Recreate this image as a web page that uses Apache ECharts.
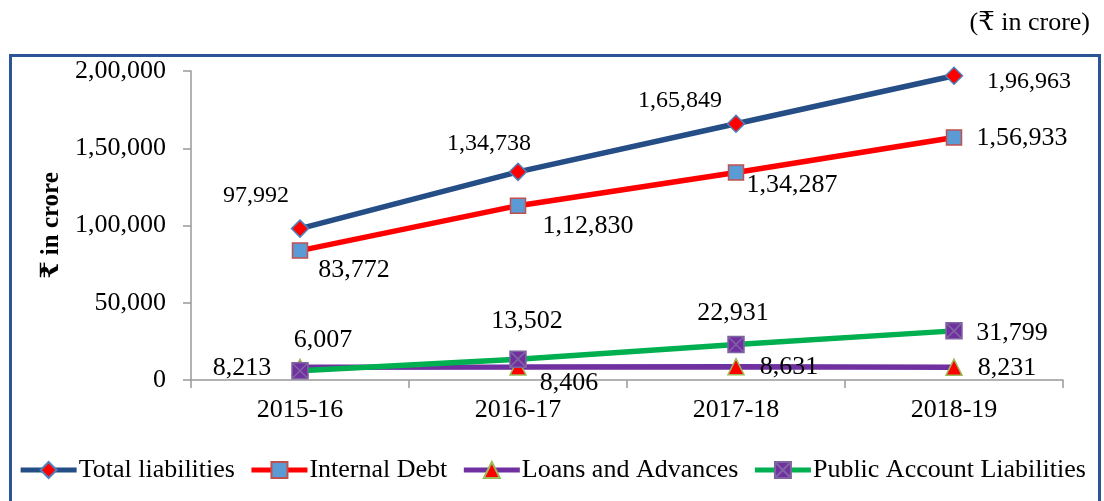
<!DOCTYPE html>
<html><head><meta charset="utf-8">
<script src="https://cdn.jsdelivr.net/npm/echarts@6/dist/echarts.min.js"></script>
<style>html,body{margin:0;padding:0;background:#fff}#c{width:1104px;height:501px}</style>
</head><body><div id="c"></div>
<script>
const categories = ['2015-16', '2016-17', '2017-18', '2018-19'];
const totalLiabilities = [97992, 134738, 165849, 196963];
const internalDebt = [83772, 112830, 134287, 156933];
const loansAdvances = [8213, 8406, 8631, 8231];
const publicAccount = [6007, 13502, 22931, 31799];
const yTicks = [0, 50000, 100000, 150000, 200000];

function indian(n) {
  const s = String(Math.round(n));
  if (s.length <= 3) return s;
  const last3 = s.slice(-3);
  const rest = s.slice(0, -3).replace(/\B(?=(\d{2})+(?!\d))/g, ',');
  return rest + ',' + last3;
}
const FONT = '"Liberation Serif", "Times New Roman", "DejaVu Serif", serif';

// label placement: [dx, dy] per point
function mk(values, cfg) {
  return values.map((v, i) => ({
    value: v,
    label: { offset: cfg[i] }
  }));
}
function lbl(size) {
  return { show: true, position: 'inside', fontFamily: FONT, fontSize: size, color: '#000', formatter: p => indian(p.value) };
}

const chart = echarts.init(document.getElementById('c'), null, { renderer: 'canvas' });
chart.setOption({
  animation: false,
  backgroundColor: '#fff',
  title: { text: '(\u20B9 in crore)', right: 9, top: 5, textStyle: { fontFamily: FONT, fontSize: 26, fontWeight: 'normal', color: '#000' } },
  graphic: [{ type: 'rect', shape: { x: 10.5, y: 55.5, width: 1089, height: 460 }, style: { fill: 'none', stroke: '#2B5597', lineWidth: 3 }, z: 0 }],
  grid: { left: 191, right: 41, top: 71, bottom: 121 },
  legend: {
    top: 452, left: 'center', itemWidth: 56, itemHeight: 20, itemGap: 14,
    lineStyle: { width: 5 },
    textStyle: { fontFamily: FONT, fontSize: 26, color: '#000', padding: [0, 0, 0, -3] },
    data: ['Total liabilities', 'Internal Debt', 'Loans and Advances', 'Public Account Liabilities']
  },
  xAxis: {
    type: 'category', data: categories, boundaryGap: true,
    axisLine: { lineStyle: { color: '#999', width: 1.5 } },
    axisTick: { show: true, length: 8, lineStyle: { color: '#999', width: 1.5 } },
    axisLabel: { fontFamily: FONT, fontSize: 26, color: '#000', margin: 17 }
  },
  yAxis: {
    type: 'value', min: yTicks[0], max: yTicks[yTicks.length - 1], interval: 50000,
    name: '\u20B9 in crore', nameLocation: 'middle', nameGap: 124, nameRotate: 90,
    nameTextStyle: { fontFamily: FONT, fontSize: 25, fontWeight: 'bold', color: '#000' },
    axisLine: { show: true, lineStyle: { color: '#999', width: 1.5 } },
    axisTick: { show: true, length: 8, lineStyle: { color: '#999', width: 1.5 } },
    splitLine: { show: false },
    axisLabel: { fontFamily: FONT, fontSize: 26, color: '#000', margin: 25, formatter: v => indian(v) }
  },
  series: [
    {
      name: 'Total liabilities', type: 'line',
      data: mk(totalLiabilities, [[-44, -33], [-29, -28], [-56, -23], [75, 6]]),
      lineStyle: { color: '#254E87', width: 5.5 }, itemStyle: { color: '#FF0000', borderColor: '#4F81BD', borderWidth: 1.5 },
      symbol: 'diamond', symbolSize: 17, label: lbl(24), z: 4
    },
    {
      name: 'Internal Debt', type: 'line',
      data: mk(internalDebt, [[54, 20], [70, 20], [56, 13], [68, 1]]),
      lineStyle: { color: '#FF0000', width: 5.5 }, itemStyle: { color: '#5B9BD5', borderColor: '#C0504D', borderWidth: 1.5 },
      symbol: 'rect', symbolSize: 15, label: lbl(26), z: 3
    },
    {
      name: 'Loans and Advances', type: 'line',
      data: mk(loansAdvances, [[-58, 1], [51, 16], [53, 1], [53, 1]]),
      lineStyle: { color: '#7030A0', width: 5.5 }, itemStyle: { color: '#FF0000', borderColor: '#9BBB59', borderWidth: 1.5 },
      symbol: 'triangle', symbolSize: 16, label: lbl(26), z: 2
    },
    {
      name: 'Public Account Liabilities', type: 'line',
      data: mk(publicAccount, [[23, -31], [9, -38], [-3, -31], [58, 2]]),
      lineStyle: { color: '#00B050', width: 5.5 }, itemStyle: { color: '#7030A0', borderColor: '#8064A2', borderWidth: 1.5 },
      symbol: 'path://M0,0H10V10H0Z M0,0L10,10 M10,0L0,10', symbolSize: 16, label: lbl(26), z: 5
    }
  ]
});
</script></body></html>
